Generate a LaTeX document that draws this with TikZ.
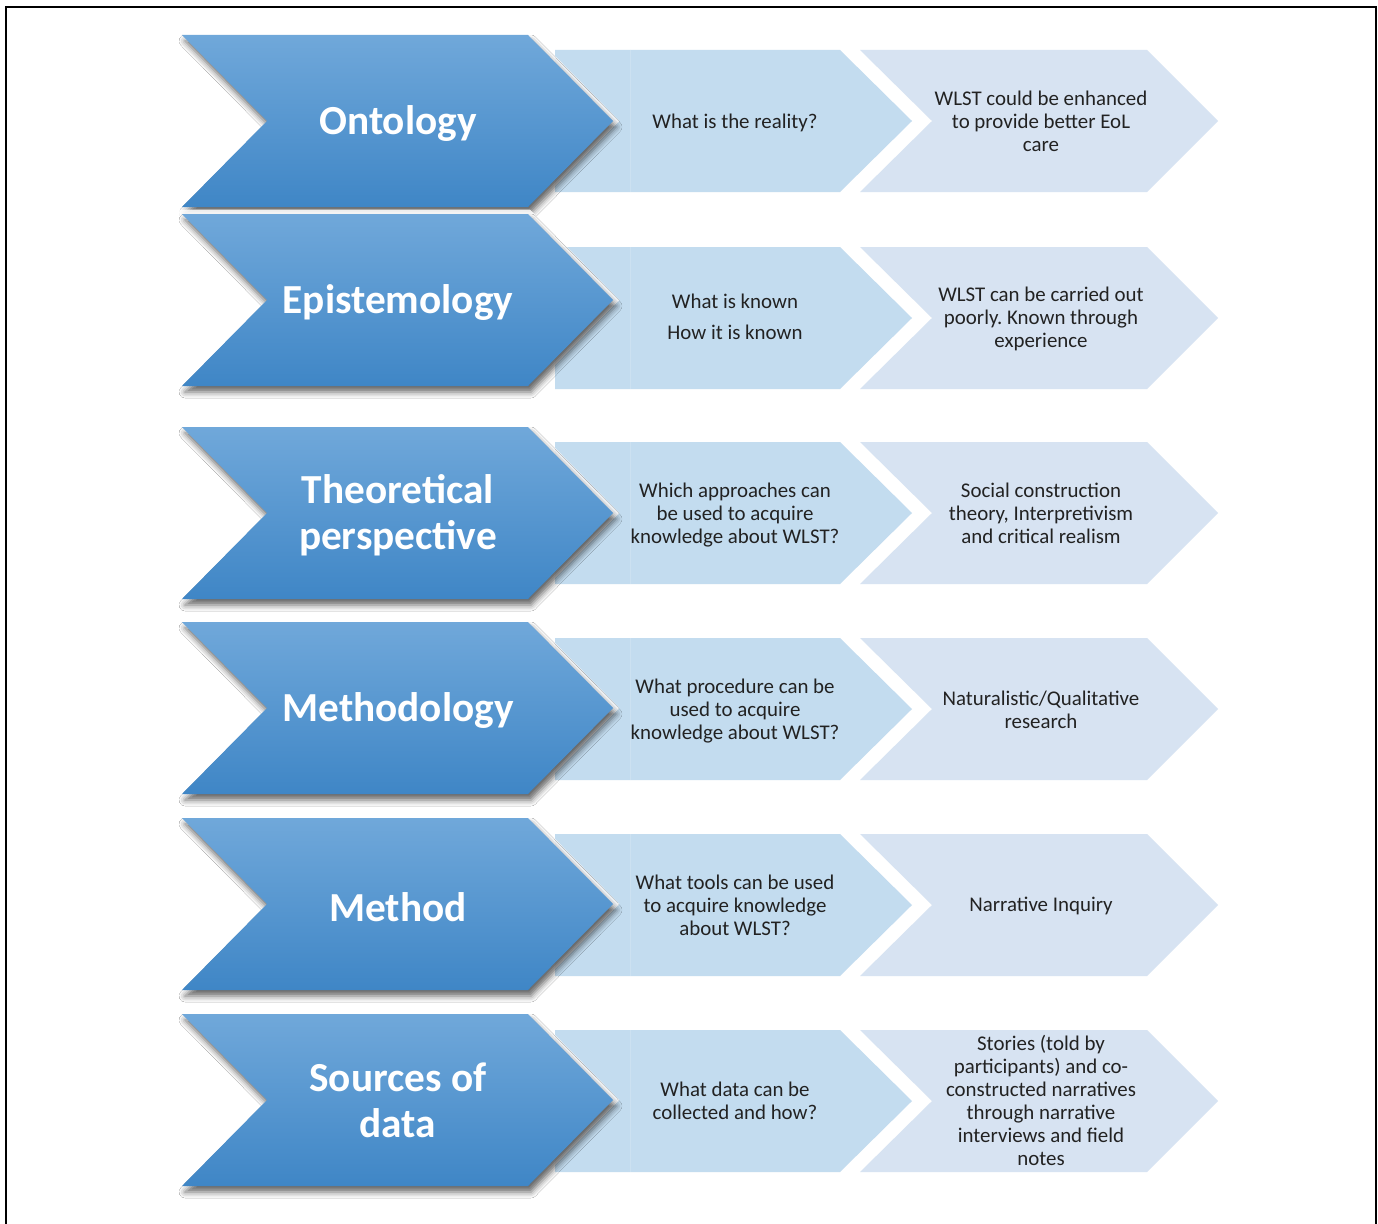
\documentclass[tikz,border=0pt]{standalone}
\usepackage{fontspec}
\setmainfont{Carlito}
\frenchspacing
\usetikzlibrary{shadows.blur}
\definecolor{bigtop}{HTML}{70A8DA}
\definecolor{bigbot}{HTML}{3F86C6}
\definecolor{midfill}{HTML}{C3DCEF}
\definecolor{rightfill}{HTML}{D7E3F2}
\definecolor{txt}{HTML}{222222}
\begin{document}
\begin{tikzpicture}[x=1pt,y=-1pt,
 bigtext/.style={text=white,font=\fontsize{41.3}{46}\selectfont\bfseries,align=center},
 smalltext/.style={text=txt,font=\fontsize{20.9}{23}\selectfont,align=center},
 bigchev/.style={top color=bigtop,bottom color=bigbot,blur shadow={shadow xshift=3pt,shadow yshift=-6pt,shadow blur radius=6pt,shadow opacity=60}},
 glow/.style={draw=white,line width=9pt,line join=miter,opacity=0.85},
 midchev/.style={fill=midfill},
 rightchev/.style={fill=rightfill},
 seam/.style={draw=midfill!85!white,line width=0.8pt}]
\useasboundingbox (0,0) rectangle (1378,1223);
\fill[white] (0,0) rectangle (1378,1223);
\draw[line width=2.5pt] (6,1224) -- (6,7) -- (1376,7) -- (1376,1224);
% small chevrons
\foreach \s in {121,318,513,709,905,1101}{
  \fill[midchev] (555,\s-71) -- (840,\s-71) -- (912,\s) -- (840,\s+71) -- (555,\s+71) -- cycle;
  \path[seam] (630,\s-71) -- (630,\s+71);
  \fill[rightchev] (860,\s-71) -- (1147,\s-71) -- (1218,\s) -- (1147,\s+71) -- (860,\s+71) -- (932,\s) -- cycle;
}
% big chevrons
\foreach \b in {121,300,513,708,904,1100}{
  \path[glow] (182,\b-86) -- (528,\b-86) -- (613,\b) -- (528,\b+86) -- (182,\b+86) -- (267,\b) -- cycle;
  \path[bigchev] (182,\b-86) -- (528,\b-86) -- (613,\b) -- (528,\b+86) -- (182,\b+86) -- (267,\b) -- cycle;
}
% big texts
\node[bigtext] (b1) at (398,124) {Ontology};
\node[bigtext] (b2) at (398,303) {Epistemology};
\node[bigtext] (b3) at (398,515) {Theoretical\\perspective};
\node[bigtext] (b4) at (398,711) {Methodology};
\node[bigtext] (b5) at (398,907) {Method};
\node[bigtext] (b6) at (398,1100) {Sources of\\data};
% middle texts
\node[smalltext] (m1) at (735,123) {What is the reality?};
\node[smalltext] (m2) at (735,317) {What is known\\[8pt]How it is known};
\node[smalltext] (m3) at (735,515) {Which approaches can\\be used to acquire\\knowledge about WLST?};
\node[smalltext] (m4) at (735,711) {What procedure can be\\used to acquire\\knowledge about WLST?};
\node[smalltext] (m5) at (735,905) {What tools can be used\\to acquire knowledge\\about WLST?};
\node[smalltext] (m6) at (735,1101) {What data can be\\collected and how?};
% right texts
\node[smalltext] (r1) at (1041,121) {WLST could be enhanced\\to provide better EoL\\care};
\node[smalltext] (r2) at (1041,319) {WLST can be carried out\\poorly. Known through\\experience};
\node[smalltext] (r3) at (1041,513) {Social construction\\theory, Interpretivism\\and critical realism};
\node[smalltext] (r4) at (1041,710) {Naturalistic/Qualitative\\research};
\node[smalltext] (r5) at (1041,906) {Narrative Inquiry};
\node[smalltext] (r6) at (1041,1100) {Stories (told by\\participants) and co-\\constructed narratives\\through narrative\\interviews and field\\notes};
\end{tikzpicture}
\end{document}
